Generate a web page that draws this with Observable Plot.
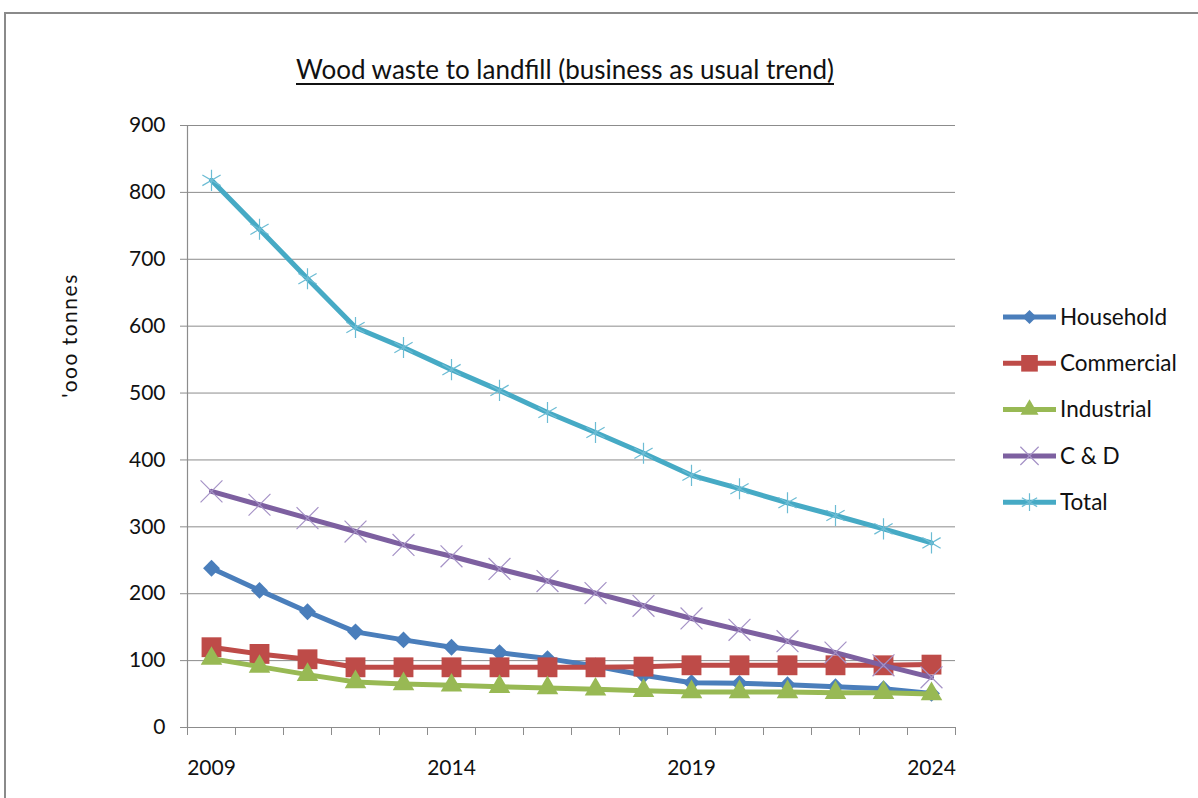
<!DOCTYPE html>
<html>
<head>
<meta charset="utf-8">
<script src="https://cdn.jsdelivr.net/npm/d3@7"></script>
<script src="https://cdn.jsdelivr.net/npm/@observablehq/plot@0.6"></script>
<style>
  body { margin: 0; background: #fff; }
  #wrap { position: relative; width: 1198px; height: 798px; overflow: hidden; font-family: Lato, "Open Sans", sans-serif; color: #111; }
  #frame { position: absolute; left: 4px; top: 12px; width: 1200px; height: 800px; border-top: 2px solid #8a8a8a; border-left: 2px solid #8a8a8a; }
  #title { position: absolute; left: 565px; top: 54px; transform: translateX(-50%); font-size: 26px; line-height: 30px; text-decoration: underline; text-decoration-thickness: 2px; text-underline-offset: 4px; white-space: nowrap; }
  #chart { position: absolute; left: 0; top: 0; }
  #legend { position: absolute; left: 0; top: 0; }
</style>
</head>
<body>
<div id="wrap">
  <div id="frame"></div>
  <div id="chart"></div>
  <div id="title">Wood waste to landfill (business as usual trend)</div>
  <div id="legend"></div>
</div>
<script>
const years = [2009,2010,2011,2012,2013,2014,2015,2016,2017,2018,2019,2020,2021,2022,2023,2024];
const household  = [238,205,173,143,131,120,112,103,92,78,67,66,64,61,58,51];
const commercial = [120,110,102,90,90,90,90,90,90,91,93,93,93,93,93,94];
const industrial = [103,91,79,68,65,63,61,59,57,55,53,53,53,52,52,50];
const cd         = [353,333,313,293,273,256,237,219,201,182,163,146,129,112,93,75];
const total      = [818,745,671,598,568,535,504,471,441,410,377,357,336,317,297,276];
const xLabels = [2009,2014,2019,2024];
const yTicks = [0,100,200,300,400,500,600,700,800,900];
const seriesNames = ["Household","Commercial","Industrial","C & D","Total"];

const seriesDefs = [
  {name:"Household", values:household, color:"#4a7ebb", symbol:"diamond2", r:7.6, fill:"#4a7ebb", mstroke:"none", msw:0},
  {name:"Commercial", values:commercial, color:"#be4b48", symbol:"square", r:11.2, fill:"#be4b48", mstroke:"none", msw:0},
  {name:"Industrial", values:industrial, color:"#98b954", symbol:"triangle", r:8, fill:"#98b954", mstroke:"none", msw:0},
  {name:"C & D", values:cd, color:"#7d60a0", symbol:"times", r:10, fill:"none", mstroke:"#a592c6", msw:1.2},
  {name:"Total", values:total, color:"#46aac5", symbol:"asterisk", r:10, fill:"none", mstroke:"#6cbcd4", msw:1.2}
];

const rows = seriesDefs.map(s => years.map((y,i) => ({year:y, value:s.values[i], series:s.name})));

const boundaries = d3.range(years.length + 1).map(i => years[0] - 0.5 + i);

const marks = [
  Plot.ruleY(yTicks.filter(d => d > 0), {stroke:"#8c8c8c", strokeWidth:1}),
  Plot.axisY({ticks: yTicks, tickSize: 7, tickPadding: 15, tickFormat: d => String(d), fontSize: 21, stroke:"#8c8c8c", label: null}),
  Plot.axisX({ticks: boundaries, tickSize: 8, tickFormat: () => "", stroke:"#8c8c8c", label:null}),
  Plot.axisX({ticks: xLabels, tickSize: 0, tickPadding: 33, tickFormat: d => String(d), fontSize: 21, label:null}),
  Plot.ruleX([years[0]-0.5], {stroke:"#8c8c8c", strokeWidth:1.2}),
  Plot.ruleY([0], {stroke:"#8c8c8c", strokeWidth:1.2})
];
seriesDefs.forEach((s, k) => {
  marks.push(Plot.line(rows[k], {x:"year", y:"value", stroke:s.color, strokeWidth:5, strokeLinejoin:"round", curve:"linear"}));
  marks.push(Plot.dot(rows[k], {x:"year", y:"value", symbol:() => s.symbol, r:s.r, fill:s.fill, stroke:s.mstroke, strokeWidth:s.msw}));
});
marks.push(Plot.text(["'ooo tonnes"], {frameAnchor:"left", textAnchor:"middle", dx:-117, dy:-91, rotate:-90, fontSize:21, fill:"#111", text:d=>d}));

const chart = Plot.plot({
  width: 1198,
  height: 798,
  marginLeft: 187,
  marginRight: 243,
  marginTop: 125,
  marginBottom: 71,
  style: {fontFamily: "Lato, 'Open Sans', sans-serif", color:"#111", background:"transparent"},
  x: {domain: [years[0]-0.5, years[years.length-1]+0.5], axis: null},
  y: {domain: [0, 900], axis: null},
  symbol: {type: "identity"},
  marks
});
document.getElementById("chart").appendChild(chart);
chart.querySelectorAll("text").forEach(t => { if (t.textContent === "'ooo tonnes") t.setAttribute("letter-spacing", "1.5"); });

// Legend
const lg = d3.select("#legend").append("svg").attr("width", 1198).attr("height", 798)
  .style("font-family", "Lato, 'Open Sans', sans-serif");
const symMap = {diamond2: d3.symbolDiamond2, square: d3.symbolSquare, triangle: d3.symbolTriangle, times: d3.symbolTimes, asterisk: d3.symbolAsterisk};
seriesDefs.forEach((s, i) => {
  const y = 317 + i * 46.3;
  const g = lg.append("g").attr("transform", `translate(0,${y})`);
  g.append("line").attr("x1", 1003).attr("x2", 1056).attr("y1", 0).attr("y2", 0)
    .attr("stroke", s.color).attr("stroke-width", 5);
  g.append("path").attr("transform", "translate(1029.5,0)")
    .attr("d", d3.symbol(symMap[s.symbol], Math.PI * s.r * s.r * 0.7)())
    .attr("fill", s.fill).attr("stroke", s.mstroke === "none" ? null : s.mstroke).attr("stroke-width", s.msw);
  g.append("text").attr("x", 1060).attr("y", 0).attr("dy", "0.35em")
    .attr("font-size", 22.5).attr("fill", "#111").text(s.name);
});
</script>
</body>
</html>
